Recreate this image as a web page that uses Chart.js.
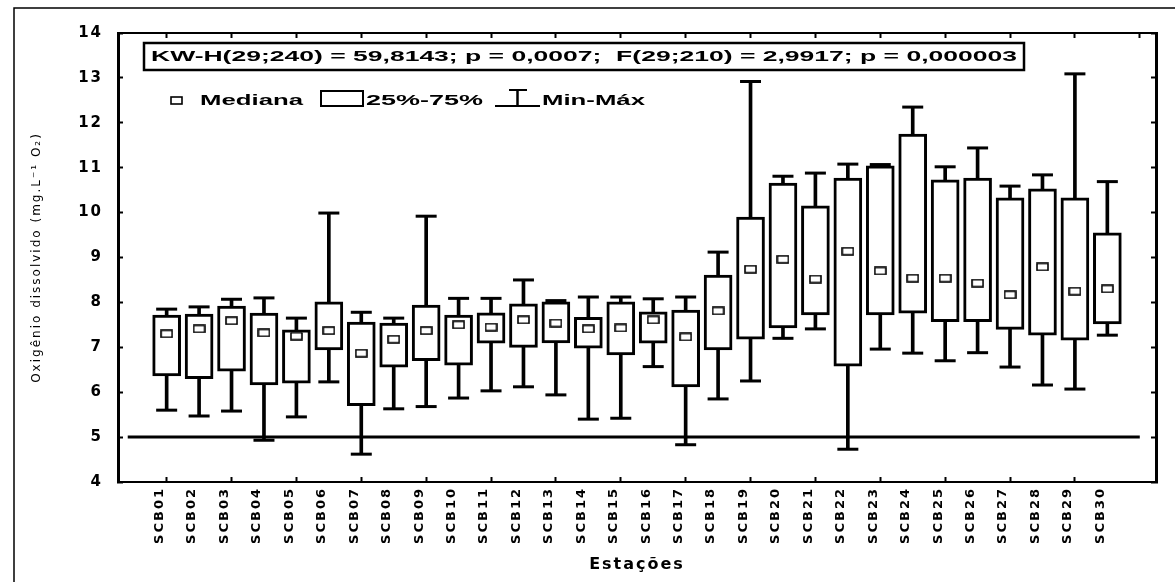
<!DOCTYPE html>
<html lang="pt">
<head>
<meta charset="utf-8">
<title>Oxigênio dissolvido por estação</title>
<script src="https://cdn.jsdelivr.net/npm/chart.js@4.4.1/dist/chart.umd.min.js"></script>
<style>
  html, body { margin: 0; padding: 0; background: #fff; }
  #wrap { width: 1175px; height: 582px; }
</style>
</head>
<body>
<div id="wrap"><canvas id="chart" width="1175" height="582"></canvas></div>
<script>
// Stations along the x axis
const stations = ['SCB01','SCB02','SCB03','SCB04','SCB05','SCB06','SCB07','SCB08','SCB09','SCB10',
                  'SCB11','SCB12','SCB13','SCB14','SCB15','SCB16','SCB17','SCB18','SCB19','SCB20',
                  'SCB21','SCB22','SCB23','SCB24','SCB25','SCB26','SCB27','SCB28','SCB29','SCB30'];

// Dissolved oxygen summary per station (mg/L O2)
const minVals = [5.60, 5.47, 5.58, 4.93, 5.45, 6.23, 4.62, 5.63, 5.68, 5.87,
                 6.03, 6.12, 5.94, 5.40, 5.42, 6.57, 4.83, 5.85, 6.25, 7.20,
                 7.41, 4.73, 6.96, 6.87, 6.70, 6.88, 6.56, 6.16, 6.07, 7.27];
const q1Vals  = [6.36, 6.30, 6.47, 6.16, 6.20, 6.94, 5.70, 6.56, 6.70, 6.60,
                 7.09, 7.00, 7.10, 6.98, 6.83, 7.09, 6.12, 6.94, 7.18, 7.43,
                 7.72, 6.58, 7.72, 7.76, 7.57, 7.57, 7.40, 7.27, 7.16, 7.52];
const medVals = [7.30, 7.41, 7.59, 7.32, 7.25, 7.37, 6.87, 7.18, 7.37, 7.50,
                 7.45, 7.61, 7.54, 7.41, 7.43, 7.61, 7.23, 7.81, 8.74, 8.96,
                 8.52, 9.14, 8.70, 8.54, 8.54, 8.43, 8.17, 8.79, 8.25, 8.30];
const q3Vals  = [7.72, 7.74, 7.92, 7.76, 7.39, 8.01, 7.56, 7.54, 7.94, 7.72,
                 7.77, 7.97, 8.01, 7.67, 8.01, 7.79, 7.83, 8.61, 9.90, 10.66,
                 10.15, 10.77, 11.04, 11.75, 10.73, 10.77, 10.33, 10.53, 10.33, 9.55];
const maxVals = [7.85, 7.90, 8.07, 8.10, 7.65, 9.99, 7.78, 7.65, 9.92, 8.09,
                 8.09, 8.50, 8.04, 8.12, 8.12, 8.08, 8.12, 9.12, 12.92, 10.81,
                 10.88, 11.08, 11.07, 12.35, 11.02, 11.44, 10.59, 10.84, 13.09, 10.69];

// Reference level (5 mg/L) and its horizontal extent in station units
const refLevel = 5;
const refSpan = [-0.2, 31];

const yMin = 4, yMax = 14, yStep = 1;
const xMin = -0.5, xMax = 31.5;

const statsText = 'KW-H(29;240) = 59,8143; p = 0,0007;  F(29;210) = 2,9917; p = 0,000003';
const legendLabels = ['Mediana', '25%-75%', 'Min-Máx'];
const xTitle = 'Estações';
const yTitle = 'Oxigênio dissolvido (mg.L⁻¹ O₂)';

const BLACK = '#000';

function pointsOf(vals) { return vals.map((v, i) => ({ x: i + 1, y: v })); }
function rangesOf(lo, hi) { return lo.map((v, i) => ({ x: i + 1, y: [v, hi[i]] })); }

// Small hollow rectangle used as the median marker
function medianMarker() {
  const c = document.createElement('canvas');
  c.width = 13; c.height = 9;
  const g = c.getContext('2d');
  g.fillStyle = '#fff';
  g.fillRect(0, 0, 13, 9);
  g.strokeStyle = BLACK;
  g.lineWidth = 1.6;
  g.strokeRect(1, 1, 11, 7);
  return c;
}

// Draws text stretched horizontally so it spans a given width
function fitText(ctx, text, x, y, w, font) {
  ctx.save();
  ctx.letterSpacing = '0px';
  ctx.font = font;
  ctx.textAlign = 'left';
  ctx.textBaseline = 'middle';
  ctx.fillStyle = BLACK;
  const m = ctx.measureText(text).width;
  ctx.translate(x, y);
  ctx.scale(w / m, 1);
  ctx.fillText(text, 0, 0);
  ctx.restore();
}

const panelPlugin = {
  id: 'panel',
  beforeDraw(chart) {
    const ctx = chart.ctx;
    ctx.save();
    ctx.fillStyle = '#fff';
    ctx.fillRect(0, 0, chart.width, chart.height);
    // outer figure frame
    ctx.strokeStyle = BLACK;
    ctx.lineWidth = 1.5;
    ctx.beginPath();
    ctx.moveTo(14, chart.height);
    ctx.lineTo(14, 8);
    ctx.lineTo(chart.width, 8);
    ctx.stroke();
    ctx.restore();
    ctx.letterSpacing = '2px';
  },
  afterDraw(chart) {
    const ctx = chart.ctx;
    const font = 'bold 15px "Liberation Sans", Arial, sans-serif';
    ctx.save();
    ctx.strokeStyle = BLACK;
    // statistics box
    ctx.lineWidth = 2.5;
    ctx.fillStyle = '#fff';
    ctx.fillRect(144, 43, 880, 27);
    ctx.strokeRect(144, 43, 880, 27);
    fitText(ctx, statsText, 151, 57, 866, font);

    // legend: median marker
    ctx.fillStyle = '#fff';
    ctx.lineWidth = 1.6;
    ctx.fillRect(171, 97, 11, 7);
    ctx.strokeRect(171, 97, 11, 7);
    fitText(ctx, legendLabels[0], 200, 101, 103, font);

    // legend: box symbol
    ctx.lineWidth = 2;
    ctx.strokeRect(321, 91, 42, 15);
    fitText(ctx, legendLabels[1], 366, 101, 117, font);

    // legend: whisker symbol
    ctx.beginPath();
    ctx.lineWidth = 2;
    ctx.moveTo(495, 106); ctx.lineTo(540, 106);
    ctx.moveTo(509, 90); ctx.lineTo(527, 90);
    ctx.stroke();
    ctx.beginPath();
    ctx.lineWidth = 2.5;
    ctx.moveTo(517.5, 90); ctx.lineTo(517.5, 106);
    ctx.stroke();
    fitText(ctx, legendLabels[2], 542, 101, 103, font);
    ctx.restore();
  }
};

const tickFont = { family: '"DejaVu Sans", sans-serif', size: 15, weight: 'bold' };

new Chart(document.getElementById('chart'), {
  type: 'bar',
  data: {
    datasets: [
      {
        type: 'line', label: 'ref', order: 6,
        data: refSpan.map(x => ({ x: x, y: refLevel })),
        borderColor: BLACK, borderWidth: 3, pointRadius: 0
      },
      {
        type: 'bar', label: 'Min-Máx', order: 5,
        data: rangesOf(minVals, maxVals),
        backgroundColor: BLACK, borderWidth: 0,
        grouped: false, barPercentage: 1, categoryPercentage: 1, maxBarThickness: 3
      },
      {
        type: 'line', label: 'max', order: 4,
        data: pointsOf(maxVals), showLine: false,
        pointStyle: 'line', pointRadius: 10.5, pointBorderWidth: 3,
        pointBorderColor: BLACK, borderColor: BLACK
      },
      {
        type: 'line', label: 'min', order: 4,
        data: pointsOf(minVals), showLine: false,
        pointStyle: 'line', pointRadius: 10.5, pointBorderWidth: 3,
        pointBorderColor: BLACK, borderColor: BLACK
      },
      {
        type: 'bar', label: '25%-75%', order: 2,
        data: rangesOf(q1Vals, q3Vals),
        backgroundColor: '#fff', borderColor: BLACK, borderWidth: 3, borderSkipped: false,
        grouped: false, barPercentage: 1, categoryPercentage: 1, maxBarThickness: 28
      },
      {
        type: 'line', label: 'Mediana', order: 1,
        data: pointsOf(medVals), showLine: false,
        pointStyle: medianMarker(), pointRadius: 6
      }
    ]
  },
  options: {
    responsive: false,
    animation: false,
    events: [],
    layout: { padding: { left: 0, top: 33, right: 19, bottom: 0 } },
    plugins: { legend: { display: false }, tooltip: { enabled: false } },
    scales: {
      x: {
        type: 'linear', position: 'bottom', min: xMin, max: xMax, offset: false,
        afterBuildTicks(scale) { scale.ticks = stations.map((s, i) => ({ value: i + 1 })); },
        afterFit(scale) { scale.height = 100; },
        ticks: {
          autoSkip: false, minRotation: 90, maxRotation: 90, padding: 10, labelOffset: -7,
          color: BLACK, font: { family: '"DejaVu Sans", sans-serif', size: 13, weight: 'bold' },
          callback: v => stations[v - 1] || ''
        },
        grid: {
          offset: false, drawOnChartArea: false, drawTicks: true, tickLength: -5, tickWidth: 2,
          tickColor: c => (c.tick && c.tick.value % 2 === 1) ? BLACK : 'rgba(0,0,0,0)'
        },
        border: { display: true, color: BLACK, width: 2 },
        title: {
          display: true, text: xTitle, color: BLACK,
          font: { family: '"DejaVu Sans", sans-serif', size: 16, weight: 'bold' },
          padding: { top: 0, bottom: 8 }
        }
      },
      x2: {
        type: 'linear', position: 'top', min: xMin, max: xMax, offset: false,
        afterBuildTicks(scale) {
          const t = [];
          for (let v = 1; v <= 31; v += 2) t.push({ value: v });
          scale.ticks = t;
        },
        afterFit(scale) { scale.height = 0; },
        ticks: { display: false },
        grid: { offset: false, drawOnChartArea: false, drawTicks: true, tickLength: -5, tickWidth: 2, tickColor: BLACK },
        border: { display: true, color: BLACK, width: 2 }
      },
      y: {
        type: 'linear', position: 'left', min: yMin, max: yMax,
        afterFit(scale) { scale.width = 118; },
        ticks: { stepSize: yStep, padding: 20, color: BLACK, font: tickFont },
        grid: { drawOnChartArea: false, drawTicks: true, tickLength: -5, tickWidth: 2, tickColor: BLACK },
        border: { display: true, color: BLACK, width: 3 },
        title: {
          display: true, text: yTitle, color: BLACK,
          font: { family: '"DejaVu Sans", sans-serif', size: 12 },
          padding: { top: 30, bottom: 0 }
        }
      },
      y2: {
        type: 'linear', position: 'right', min: yMin, max: yMax,
        afterFit(scale) { scale.width = 0; },
        ticks: { display: false, stepSize: yStep },
        grid: { drawOnChartArea: false, drawTicks: true, tickLength: -5, tickWidth: 2, tickColor: BLACK },
        border: { display: true, color: BLACK, width: 3 }
      }
    }
  },
  plugins: [panelPlugin]
});
</script>
</body>
</html>
